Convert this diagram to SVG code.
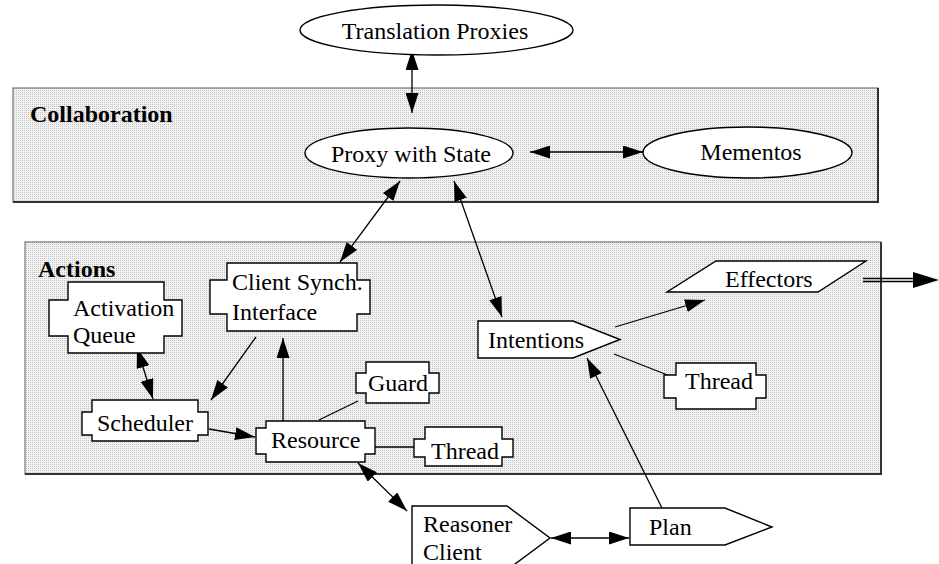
<svg xmlns="http://www.w3.org/2000/svg" width="939" height="564" viewBox="0 0 939 564">
  <defs>
    <!-- halftone-style screen used for the two group panels -->
    <pattern id="screen" width="2" height="2" patternUnits="userSpaceOnUse">
      <rect width="2" height="2" fill="#f2f2f2"/>
      <rect width="1" height="1" fill="#c4c4c4"/>
    </pattern>
    <marker id="head" viewBox="0 0 20 13" refX="20" refY="6.5" markerWidth="20" markerHeight="13"
            markerUnits="userSpaceOnUse" orient="auto-start-reverse">
      <path d="M0,0 L20,6.5 L0,13 z" fill="#000"/>
    </marker>
    <style>
      .panel { fill: url(#screen); stroke: #777; stroke-width: 1.2; }
      .shade { stroke: #333; stroke-width: 2; fill: none; }
      .node { fill: #fff; stroke: #000; stroke-width: 1.4; }
      .lbl { font-family: "Liberation Serif", "Times New Roman", serif; font-size: 24px; fill: #000; }
      .title { font-family: "Liberation Serif", "Times New Roman", serif; font-size: 24px; font-weight: bold; fill: #000; }
      .edge { stroke: #000; stroke-width: 1.3; fill: none; }
      .one { marker-end: url(#head); }
      .two { marker-start: url(#head); marker-end: url(#head); }
    </style>
  </defs>

  <!-- group panels -->
  <g id="collaboration">
    <rect class="panel" x="13" y="88" width="865" height="114"/>
    <polyline class="shade" points="878,88 878,202 13,202"/>
    <text class="title" x="30" y="122">Collaboration</text>
  </g>
  <g id="actions">
    <rect class="panel" x="25" y="242" width="856" height="232"/>
    <polyline class="shade" points="881,242 881,474 25,474"/>
    <text class="title" x="38" y="277">Actions</text>
  </g>

  <!-- connectors -->
  <g id="connectors">
    <line class="edge two" x1="412" y1="50" x2="412" y2="113"/>
    <line class="edge two" x1="530" y1="152" x2="643" y2="152"/>
    <line class="edge two" x1="400" y1="181" x2="340" y2="262"/>
    <line class="edge two" x1="454" y1="181" x2="502" y2="317"/>
    <line class="edge two" x1="137" y1="348" x2="153" y2="399"/>
    <line class="edge one" x1="256" y1="337" x2="211" y2="400"/>
    <line class="edge one" x1="283" y1="421" x2="283" y2="338"/>
    <line class="edge one" x1="209" y1="429" x2="255" y2="437"/>
    <line class="edge" x1="319" y1="420" x2="358" y2="401"/>
    <line class="edge" x1="375" y1="447" x2="414" y2="447" stroke="#333"/>
    <line class="edge two" x1="358" y1="463" x2="407" y2="511"/>
    <line class="edge two" x1="551" y1="538" x2="629" y2="538"/>
    <line class="edge one" x1="663" y1="510" x2="587" y2="358"/>
    <line class="edge one" x1="615" y1="327" x2="705" y2="300"/>
    <line class="edge" x1="614" y1="354" x2="670" y2="376"/>
    <!-- double-line output flow leaving the effectors -->
    <line class="edge" x1="863" y1="278.5" x2="914" y2="278.5" stroke-width="1.1"/>
    <line class="edge" x1="863" y1="281.5" x2="914" y2="281.5" stroke-width="1.1"/>
    <path d="M913,272 L939,280 L913,288 z" fill="#000"/>
  </g>

  <!-- collaboration nodes -->
  <g id="translation-proxies">
    <ellipse class="node" cx="436.5" cy="30" rx="136.5" ry="25"/>
    <text class="lbl" x="435" y="39" text-anchor="middle">Translation Proxies</text>
  </g>
  <g id="proxy-with-state">
    <ellipse class="node" cx="409" cy="153" rx="104" ry="25"/>
    <text class="lbl" x="411" y="162" text-anchor="middle">Proxy with State</text>
  </g>
  <g id="mementos">
    <ellipse class="node" cx="747.5" cy="152.5" rx="104.5" ry="25.5"/>
    <text class="lbl" x="751" y="160" text-anchor="middle">Mementos</text>
  </g>

  <!-- action nodes -->
  <g id="activation-queue">
    <polygon class="node" points="68,282 164,282 164,300 182,300 182,336 164,336 164,353 68,353 68,336 49,336 49,300 68,300"/>
    <text class="lbl" x="73" y="316">Activation</text>
    <text class="lbl" x="73" y="343">Queue</text>
  </g>
  <g id="client-synch-interface">
    <polygon class="node" points="227,263 357,263 357,280 370,280 370,314 357,314 357,331 227,331 227,314 210,314 210,280 227,280"/>
    <text class="lbl" x="232" y="290">Client Synch.</text>
    <text class="lbl" x="232" y="320">Interface</text>
  </g>
  <g id="scheduler">
    <polygon class="node" points="92,400 198,400 198,412 208,412 208,435 198,435 198,441 92,441 92,435 82,435 82,412 92,412"/>
    <text class="lbl" x="97" y="431">Scheduler</text>
  </g>
  <g id="resource">
    <polygon class="node" points="266,421 365,421 365,428 375,428 375,454 365,454 365,462 266,462 266,454 256,454 256,428 266,428"/>
    <text class="lbl" x="271" y="448">Resource</text>
  </g>
  <g id="guard">
    <polygon class="node" points="366,362 429,362 429,373 439,373 439,393 429,393 429,403 366,403 366,393 356,393 356,373 366,373"/>
    <text class="lbl" x="368" y="391">Guard</text>
  </g>
  <g id="resource-thread">
    <polygon class="node" points="425,427 502,427 502,439 513,439 513,457 502,457 502,466 425,466 425,457 414,457 414,439 425,439"/>
    <text class="lbl" x="431" y="459">Thread</text>
  </g>
  <g id="intentions">
    <polygon class="node" points="478,321 573,321 620,339.5 573,358 478,358"/>
    <text class="lbl" x="488" y="348">Intentions</text>
  </g>
  <g id="effectors">
    <polygon class="node" points="716,261 866,261 818,292 667,292"/>
    <text class="lbl" x="725" y="287">Effectors</text>
  </g>
  <g id="intentions-thread">
    <polygon class="node" points="676,363 756,363 756,375 766,375 766,398 756,398 756,409 676,409 676,398 664,398 664,375 676,375"/>
    <text class="lbl" x="685" y="389">Thread</text>
  </g>

  <!-- nodes below the actions panel -->
  <g id="reasoner-client">
    <polygon class="node" points="412,506 507,506 550,538 507,570 412,570"/>
    <text class="lbl" x="423" y="532">Reasoner</text>
    <text class="lbl" x="423" y="560">Client</text>
  </g>
  <g id="plan">
    <polygon class="node" points="630,508 725,508 772,527 725,545 630,545"/>
    <text class="lbl" x="649" y="535">Plan</text>
  </g>
</svg>
